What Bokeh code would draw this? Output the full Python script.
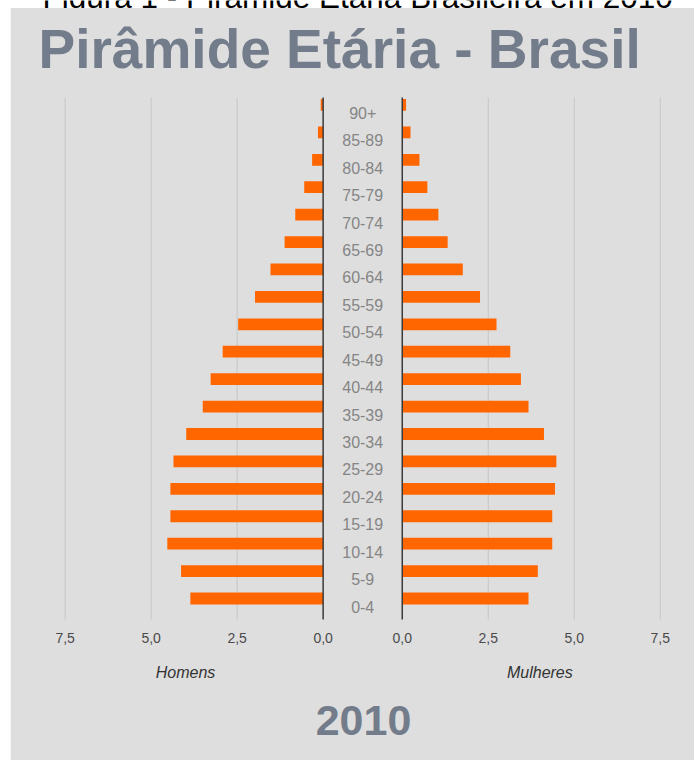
from bokeh.plotting import figure
from bokeh.models import Range1d, BoxAnnotation
from bokeh.embed import file_html
from bokeh.resources import INLINE
from bokeh.core.properties import value

# ---------------- data ----------------
ages = ["0-4", "5-9", "10-14", "15-19", "20-24", "25-29", "30-34", "35-39",
        "40-44", "45-49", "50-54", "55-59", "60-64", "65-69", "70-74",
        "75-79", "80-84", "85-89", "90+"]
homens = [3.86, 4.13, 4.53, 4.44, 4.44, 4.35, 3.98, 3.50, 3.27, 2.92,
          2.47, 1.98, 1.53, 1.12, 0.81, 0.55, 0.32, 0.15, 0.07]
mulheres = [3.67, 3.94, 4.36, 4.36, 4.44, 4.48, 4.12, 3.67, 3.45, 3.14,
            2.74, 2.26, 1.76, 1.32, 1.05, 0.73, 0.50, 0.24, 0.11]
tick_values = [0.0, 2.5, 5.0, 7.5]
tick_labels = ["0,0", "2,5", "5,0", "7,5"]
title_text = "Pirâmide Etária - Brasil"
caption_text = "Figura 1 - Pirâmide Etária Brasileira em 2010"
year_text = "2010"
left_label = "Homens"
right_label = "Mulheres"

# ---------------- layout constants ----------------
BG = "#dedede"
ORANGE = "#ff6600"
SLATE = "#737c8b"
FONT = value("Liberation Sans")
HALF_GAP = 1.15          # gap (value units) between centre and each zero line
SIDE_LABEL_AT = 4.0      # "Homens"/"Mulheres" position (value units from zero)
FIG_LEFT = 10
W, H = 684, 760
PANEL_TOP = 7.5          # page y where the grey panel starts
PX_X = 34.4              # pixels per value unit
CENTER_X = 362.2         # page x of the chart centre
ROW_PX = 27.42           # pixels per age row
ROW0_Y = 598             # page y of the "0-4" row centre
MID = 0.3465             # baseline -> text middle, in em

def xdata(page_x):
    return (page_x - CENTER_X) / PX_X

def ydata(page_y):
    return (ROW0_Y - page_y) / ROW_PX

def ymid(baseline_y, size_px):
    # data y of the text middle for a given page baseline
    return ydata(baseline_y - MID * size_px)

PLOT_TOP, PLOT_BOTTOM = ydata(97), ydata(619)
ypos = list(range(len(ages)))

p = figure(width=W, height=H, title=None,
           x_range=Range1d(xdata(FIG_LEFT), xdata(FIG_LEFT + W)),
           y_range=Range1d(ydata(H), ydata(0)),
           x_axis_location=None, y_axis_location=None,
           output_backend="svg", toolbar_location=None, min_border=0,
           background_fill_color="white", border_fill_color="white",
           outline_line_color=None, margin=(0, 0, 0, FIG_LEFT))
p.grid.visible = False

# caption (mostly above the page, its lower part hidden by the panel)
cap = p.text(x=[xdata(42)], y=[ymid(7, 31.5)], text=[caption_text],
             text_align="left", text_baseline="middle", text_font=FONT,
             text_font_size=value("31.5px"), text_color="black")
cap.level = "image"

# grey panel
p.add_layout(BoxAnnotation(left=xdata(FIG_LEFT), right=xdata(FIG_LEFT + W),
                           top=ydata(PANEL_TOP), bottom=ydata(H),
                           fill_color=BG, fill_alpha=1.0,
                           line_color=None, line_alpha=0, level="underlay"))

# tick positions on both halves
tick_pos, tick_txt, tick_raw = [], [], []
for t, lab in zip(tick_values, tick_labels):
    for s in (-1, 1):
        tick_pos.append(s * (HALF_GAP + t))
        tick_txt.append(lab)
        tick_raw.append(t)
grid_pos = [x for x, t in zip(tick_pos, tick_raw) if t > 0]

# grid lines
p.segment(x0=grid_pos, y0=PLOT_BOTTOM, x1=grid_pos, y1=PLOT_TOP,
          line_color="#c6c6c6", line_width=1)

# bars
p.hbar(y=ypos, left=[-(HALF_GAP + v) for v in homens], right=-HALF_GAP,
       height=0.43, fill_color=ORANGE, line_color=None)
p.hbar(y=ypos, left=HALF_GAP, right=[HALF_GAP + v for v in mulheres],
       height=0.43, fill_color=ORANGE, line_color=None)

# zero lines
p.segment(x0=[-HALF_GAP, HALF_GAP], y0=PLOT_BOTTOM, x1=[-HALF_GAP, HALF_GAP],
          y1=PLOT_TOP, line_color="#3a3a3a", line_width=1.5)

# tick labels
p.text(x=tick_pos, y=ydata(637), text=tick_txt, text_align="center",
       text_baseline="middle", text_font=FONT, text_font_size=value("14px"),
       text_color="#4a4a4a")

# age labels
p.text(x=0, y=ypos, text=ages, text_align="center", text_baseline="middle",
       y_offset=8, text_font=FONT, text_font_size=value("16px"),
       text_color="#858585")

# side names
p.text(x=[-(HALF_GAP + SIDE_LABEL_AT), HALF_GAP + SIDE_LABEL_AT], y=ydata(672),
       text=[left_label, right_label], text_align="center",
       text_baseline="middle", text_font=FONT, text_font_style="italic",
       text_font_size=value("16px"), text_color="#333333")

# title and year
p.text(x=[xdata(38)], y=[ymid(68, 55)], text=[title_text], text_align="left",
       text_baseline="middle", text_font=FONT, text_font_style="bold",
       text_font_size=value("55px"), text_color=SLATE)
p.text(x=[xdata(363)], y=[ymid(735, 43)], text=[year_text], text_align="center",
       text_baseline="middle", text_font=FONT, text_font_style="bold",
       text_font_size=value("43px"), text_color=SLATE)

open("out.html", "w").write(file_html(p, INLINE))
